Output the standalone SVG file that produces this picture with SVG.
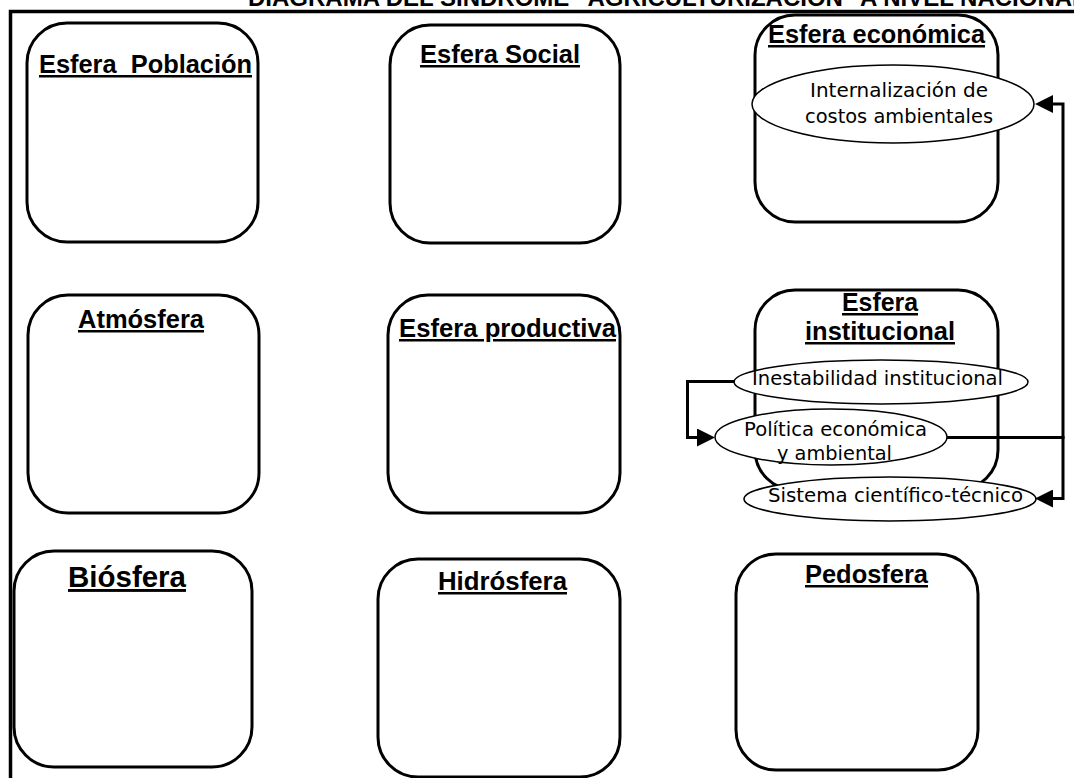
<svg xmlns="http://www.w3.org/2000/svg" width="1074" height="778" viewBox="0 0 1074 778">
<style>
.bg{fill:#ffffff}
.box{fill:#ffffff;stroke:#000000;stroke-width:3}
.ell{fill:#ffffff;stroke:#000000;stroke-width:1.5}
.frame{fill:none;stroke:#000000;stroke-width:3.5}
.conn{fill:none;stroke:#000000;stroke-width:3}
.title{font-family:"Liberation Sans",Arial,sans-serif;font-weight:bold;font-size:25px;fill:#000000;text-decoration:underline}
.head{font-family:"Liberation Sans",Arial,sans-serif;font-weight:bold;font-size:24px;fill:#000000}
.lbl{font-family:"DejaVu Sans",Verdana,sans-serif;font-size:19px;fill:#000000}
</style>
<defs>
<marker id="arr" viewBox="0 0 18 18" refX="12" refY="9" markerWidth="18" markerHeight="18" markerUnits="userSpaceOnUse" orient="auto">
<path d="M0,0 L18,9 L0,18 Z" fill="#000000"/>
</marker>
</defs>
<rect class="bg" x="0" y="0" width="1074" height="778"/>
<text class="head" x="248" y="6" xml:space="preserve">DIAGRAMA DEL SINDROME "AGRICULTURIZACIÓN" A NIVEL NACIONAL</text>
<path class="frame" d="M10.5,778 V11.5 H1074"/>

<g id="esfera-poblacion">
<rect class="box" x="27" y="23" width="231" height="219" rx="40" ry="40"/>
<text class="title" x="39" y="73" textLength="213" lengthAdjust="spacingAndGlyphs" xml:space="preserve">Esfera  Población</text>
</g>
<g id="esfera-social">
<rect class="box" x="390" y="25" width="230" height="218" rx="40" ry="40"/>
<text class="title" x="420" y="63" textLength="160" lengthAdjust="spacingAndGlyphs">Esfera Social</text>
</g>
<g id="esfera-economica">
<rect class="box" x="755" y="15" width="243" height="207" rx="40" ry="40"/>
<text class="title" x="768" y="43" textLength="217" lengthAdjust="spacingAndGlyphs">Esfera económica</text>
</g>
<g id="atmosfera">
<rect class="box" x="28" y="295" width="231" height="218" rx="40" ry="40"/>
<text class="title" x="78" y="328" textLength="126" lengthAdjust="spacingAndGlyphs">Atmósfera</text>
</g>
<g id="esfera-productiva">
<rect class="box" x="388" y="295" width="232" height="218" rx="40" ry="40"/>
<text class="title" x="399" y="337" textLength="217" lengthAdjust="spacingAndGlyphs">Esfera productiva</text>
</g>
<g id="esfera-institucional">
<rect class="box" x="755" y="290" width="243" height="200" rx="40" ry="40"/>
<text class="title" x="842" y="311" textLength="76" lengthAdjust="spacingAndGlyphs">Esfera</text>
<text class="title" x="805" y="340" textLength="150" lengthAdjust="spacingAndGlyphs">institucional</text>
</g>
<g id="biosfera">
<rect class="box" x="14" y="551" width="238" height="216" rx="40" ry="40"/>
<text class="title" x="68" y="587" style="font-size:29px" textLength="118" lengthAdjust="spacingAndGlyphs">Biósfera</text>
</g>
<g id="hidrosfera">
<rect class="box" x="378" y="559" width="242" height="218" rx="40" ry="40"/>
<text class="title" x="438" y="590" textLength="129" lengthAdjust="spacingAndGlyphs">Hidrósfera</text>
</g>
<g id="pedosfera">
<rect class="box" x="736" y="554" width="242" height="216" rx="40" ry="40"/>
<text class="title" x="805" y="583" textLength="123" lengthAdjust="spacingAndGlyphs">Pedosfera</text>
</g>

<g id="internalizacion">
<ellipse class="ell" cx="893" cy="104" rx="141" ry="39"/>
<text class="lbl" x="810" y="97" style="font-size:20px" textLength="178" lengthAdjust="spacingAndGlyphs">Internalización de</text>
<text class="lbl" x="805" y="123" style="font-size:20px" textLength="188" lengthAdjust="spacingAndGlyphs">costos ambientales</text>
</g>
<g id="inestabilidad">
<ellipse class="ell" cx="881" cy="382" rx="147" ry="22"/>
<text class="lbl" x="752" y="385" textLength="251" lengthAdjust="spacingAndGlyphs">Inestabilidad institucional</text>
</g>
<g id="politica">
<ellipse class="ell" cx="831" cy="437" rx="116" ry="28"/>
<text class="lbl" x="744" y="436" textLength="183" lengthAdjust="spacingAndGlyphs">Política económica</text>
<text class="lbl" x="777" y="460" textLength="115" lengthAdjust="spacingAndGlyphs">y ambiental</text>
</g>
<g id="sistema">
<ellipse class="ell" cx="890" cy="499" rx="146" ry="22"/>
<text class="lbl" x="768" y="502" textLength="255" lengthAdjust="spacingAndGlyphs">Sistema científico-técnico</text>
</g>

<g id="connectors">
<path class="conn" d="M735,381.5 H687.5 V437.5 H709" marker-end="url(#arr)"/>
<path class="conn" d="M947,437.5 H1063"/>
<path class="conn" d="M1063,439 V104 H1041" marker-end="url(#arr)"/>
<path class="conn" d="M1063,436 V498.5 H1041" marker-end="url(#arr)"/>
</g>
</svg>
